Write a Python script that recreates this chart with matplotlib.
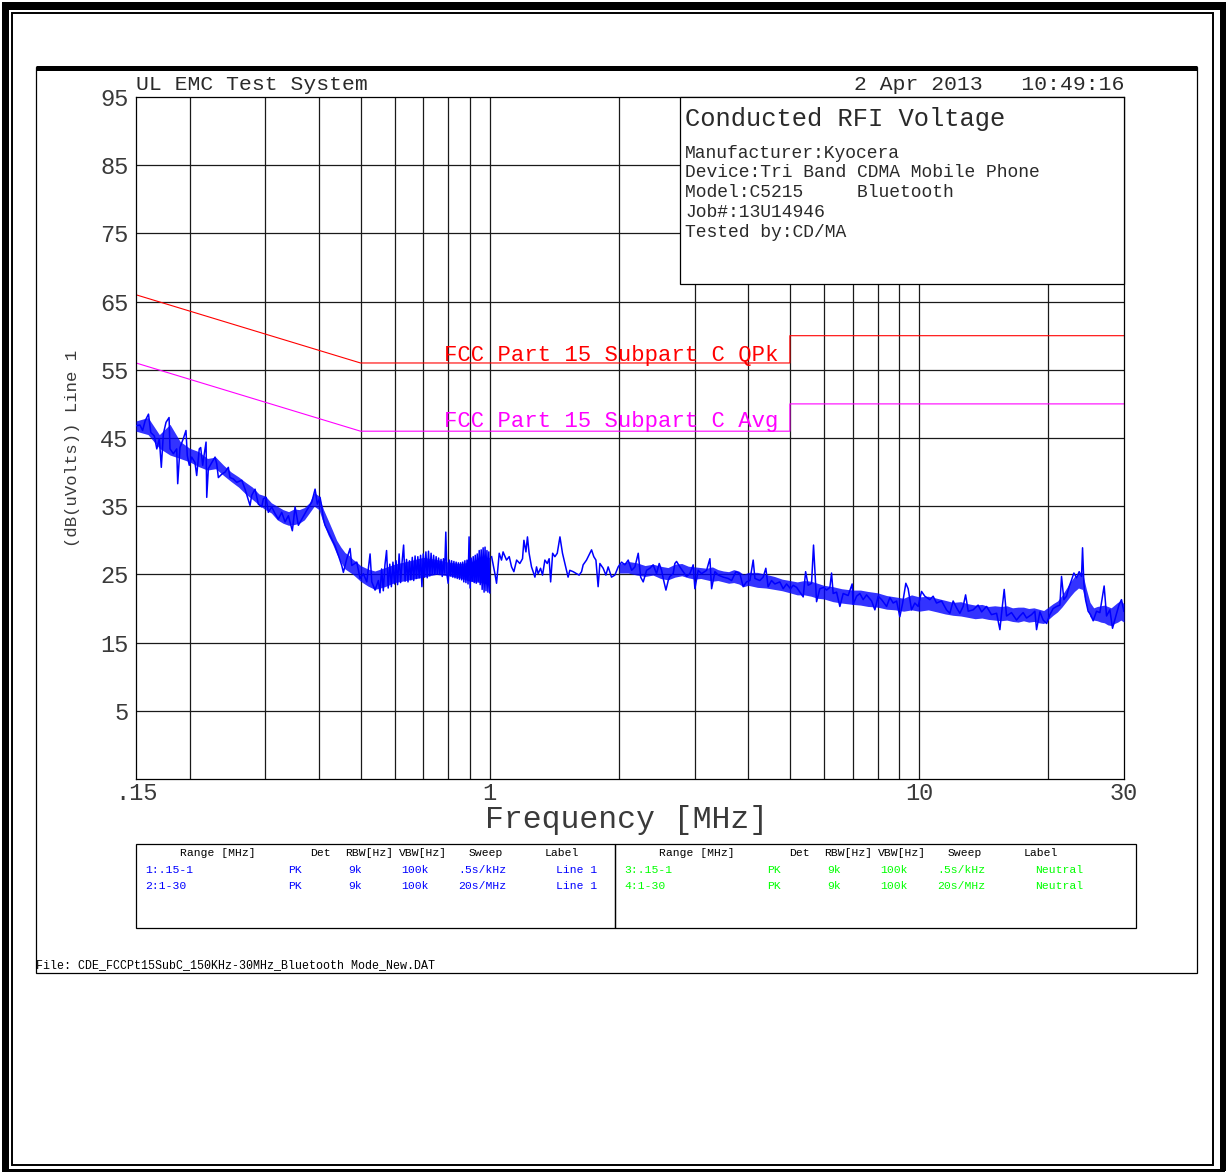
import matplotlib
matplotlib.use("Agg")
import matplotlib.pyplot as plt
from matplotlib.patches import Rectangle

W, H = 1227, 1173
plt.rcParams["font.family"] = ["Liberation Mono", "DejaVu Sans Mono"]

# range 1: .15-1 MHz (Line 1, peak)
FREQ_R1 = [0.150, 0.1532, 0.1554, 0.1575, 0.1604, 0.1624, 0.1655, 0.1677, 0.1700, 0.1718,
           0.1737, 0.1762, 0.1791, 0.1800, 0.1833, 0.1866, 0.1876, 0.1899, 0.1933, 0.1961,
           0.1975, 0.1996, 0.2022, 0.2058, 0.2077, 0.2106, 0.2122, 0.2145, 0.2160, 0.2184,
           0.2192, 0.2211, 0.2252, 0.2292, 0.2313, 0.2333, 0.2376, 0.2418, 0.2461, 0.2483,
           0.2528, 0.2574, 0.2645, 0.2692, 0.2765, 0.2790, 0.2840, 0.2891, 0.2944, 0.2970,
           0.3013, 0.3050, 0.3106, 0.3162, 0.3218, 0.3277, 0.3336, 0.3396, 0.3469, 0.3520,
           0.3583, 0.3649, 0.3748, 0.3850, 0.3919, 0.3967, 0.4025, 0.4062, 0.4097, 0.4134,
           0.4208, 0.4286, 0.4362, 0.4440, 0.4522, 0.4561, 0.4645, 0.4728, 0.4771, 0.4901,
           0.4988, 0.5077, 0.5171, 0.5263, 0.5311, 0.5406, 0.5503,
           0.555, 0.560, 0.565, 0.570, 0.575, 0.580, 0.585, 0.590, 0.595, 0.600,
           0.605, 0.610, 0.615, 0.620, 0.625, 0.630, 0.635, 0.640, 0.645, 0.650,
           0.655, 0.660, 0.665, 0.670, 0.675, 0.680, 0.685, 0.690, 0.695, 0.700,
           0.705, 0.710, 0.715, 0.720, 0.725, 0.730, 0.735, 0.740, 0.745, 0.750,
           0.755, 0.760, 0.765, 0.770, 0.775, 0.780, 0.785, 0.790, 0.795, 0.800,
           0.805, 0.810, 0.815, 0.820, 0.825, 0.830, 0.835, 0.840, 0.845, 0.850,
           0.855, 0.860, 0.865, 0.870, 0.875, 0.880, 0.885, 0.890, 0.895, 0.900,
           0.905, 0.910, 0.915, 0.920, 0.925, 0.930, 0.935, 0.940, 0.945, 0.950,
           0.955, 0.960, 0.965, 0.970, 0.975, 0.980, 0.985, 0.990, 0.995, 1.000]
LEVEL_R1 = [46.8, 46.9, 46.1, 47.5, 48.5, 45.8, 45.3, 43.4, 44.9, 40.7,
            45.6, 47.3, 48.0, 43.4, 42.7, 43.4, 38.3, 43.6, 44.9, 46.1,
            42.4, 41.0, 42.2, 41.4, 39.5, 43.4, 43.6, 41.0, 42.4, 44.4,
            36.3, 40.5, 41.4, 42.2, 41.2, 39.2, 39.7, 40.0, 40.7, 39.2,
            39.0, 38.5, 38.8, 37.5, 35.1, 36.6, 37.5, 35.3, 34.9, 36.1,
            36.3, 34.1, 34.9, 33.9, 33.1, 34.1, 32.7, 33.6, 31.4, 34.9,
            32.2, 33.1, 34.4, 35.6, 37.5, 35.3, 36.3, 34.9, 33.1, 32.2,
            31.2, 30.2, 29.2, 27.8, 26.3, 25.3, 27.3, 28.8, 26.3, 26.8,
            24.4, 25.1, 23.9, 28.0, 23.9, 22.7, 24.1,
            22.3, 25.8, 22.6, 26.4, 28.5, 23.0, 26.5, 23.2, 26.8, 23.6,
            27.0, 23.5, 28.0, 23.8, 26.9, 29.3, 24.0, 27.2, 23.9, 27.0,
            24.2, 27.5, 24.1, 27.7, 24.4, 27.6, 24.5, 27.8, 23.2, 28.0,
            24.6, 28.3, 24.5, 28.4, 24.8, 28.1, 25.0, 27.8, 25.0, 27.6,
            25.1, 27.4, 25.0, 27.2, 24.7, 27.3, 25.2, 31.2, 24.9, 23.7,
            27.1, 24.8, 27.0, 24.6, 26.9, 24.5, 26.8, 24.4, 26.7, 24.3,
            26.7, 24.2, 26.8, 23.9, 27.0, 23.8, 27.1, 23.6, 30.5, 23.0,
            27.4, 24.0, 27.6, 23.8, 27.8, 23.7, 28.0, 24.0, 28.5, 23.5,
            28.6, 22.8, 28.9, 22.4, 29.0, 22.6, 28.5, 22.4, 28.3, 22.3]

# noise band of range 1 (lower / upper edge of the dense sweep)
BAND_R1_FREQ = [0.15, 0.16, 0.17, 0.18, 0.19, 0.20, 0.21, 0.22, 0.23, 0.24,
                0.25, 0.26, 0.27, 0.28, 0.29, 0.30, 0.31, 0.32, 0.33, 0.34,
                0.35, 0.36, 0.37, 0.38, 0.39, 0.40, 0.41, 0.42, 0.43, 0.44,
                0.45, 0.46, 0.47, 0.48, 0.49, 0.50, 0.52, 0.54, 0.57, 0.60,
                0.65, 0.70, 0.75, 0.80, 0.85, 0.90, 0.95, 1.00]
BAND_R1_LO = [46.0, 45.5, 43.5, 42.5, 42.0, 41.5, 40.8, 40.3, 40.5, 39.5,
              38.6, 37.8, 36.8, 36.0, 35.2, 34.5, 34.0, 33.0, 32.5, 32.2,
              32.3, 32.5, 33.0, 34.0, 35.0, 34.5, 32.5, 30.8, 29.5, 28.0,
              26.8, 25.8, 25.4, 25.0, 24.5, 24.0, 23.3, 22.8, 23.2, 23.8,
              24.2, 24.6, 25.0, 24.8, 24.5, 24.0, 23.8, 23.5]
BAND_R1_HI = [47.5, 48.0, 45.5, 47.0, 44.5, 43.5, 43.0, 42.0, 42.2, 41.0,
              40.0, 39.3, 38.5, 37.8, 36.8, 36.5, 35.5, 35.0, 34.5, 34.2,
              34.6, 34.5, 34.8, 35.5, 37.0, 36.5, 34.5, 33.0, 31.5, 30.0,
              29.0, 28.2, 27.8, 27.2, 26.8, 26.3, 25.8, 25.5, 26.0, 26.5,
              27.0, 27.5, 27.2, 26.8, 26.6, 26.8, 27.5, 27.5]

# range 2: 1-30 MHz (Line 1, peak)
FREQ_R2 = [1.010, 1.028, 1.037, 1.052, 1.065, 1.074, 1.094, 1.110, 1.124, 1.138,
           1.155, 1.175, 1.192, 1.201, 1.214, 1.224, 1.235, 1.251, 1.274, 1.285,
           1.296, 1.313, 1.327, 1.344, 1.361, 1.375, 1.386, 1.401, 1.418, 1.436,
           1.457, 1.477, 1.496, 1.522, 1.536, 1.564, 1.593, 1.615, 1.636, 1.650,
           1.680, 1.726, 1.747, 1.767, 1.788, 1.805, 1.837, 1.864, 1.887, 1.921,
           1.956, 1.991, 2.028, 2.064, 2.101, 2.140, 2.178, 2.217, 2.246, 2.277,
           2.319, 2.360, 2.402, 2.446, 2.481, 2.513, 2.535, 2.572, 2.604,
           2.627, 2.674, 2.698, 2.723, 2.772, 2.821, 2.873, 2.924, 2.977, 3.004,
           3.058, 3.114, 3.199, 3.256, 3.286, 3.345, 3.405, 3.497, 3.592, 3.658,
           3.743, 3.824, 3.892, 3.963, 4.035, 4.107, 4.145, 4.256, 4.332, 4.395,
           4.449, 4.531, 4.613, 4.738, 4.823, 4.912, 5.018, 5.089, 5.183, 5.276,
           5.370, 5.440, 5.515, 5.616, 5.676, 5.716, 5.769, 5.872, 6.000, 6.087,
           6.196, 6.252, 6.306, 6.422, 6.537, 6.654, 6.834, 6.982, 7.020, 7.149,
           7.277, 7.407, 7.544, 7.750, 7.887, 8.029, 8.176, 8.399, 8.549, 8.700,
           8.861, 9.016, 9.148, 9.311, 9.428, 9.601, 9.772, 9.947, 10.13, 10.31,
           10.59, 10.78, 10.98, 11.28, 11.58, 11.79, 12.00, 12.22, 12.44,
           12.66, 12.83, 13.01, 13.36, 13.72, 13.98, 14.35, 14.74, 15.15, 15.42,
           15.56, 15.78, 15.98, 16.41, 16.86, 17.16, 17.47, 17.79, 18.27, 18.60,
           18.77, 19.11, 19.45, 19.81, 20.16, 20.52, 20.90, 21.27, 21.46, 21.73,
           22.04, 22.35, 22.65, 22.93, 23.26, 23.59, 23.89, 24.02, 24.19, 24.41,
           24.75, 25.07, 25.43, 25.89, 26.36, 26.97, 27.32, 27.81, 28.21, 28.72,
           29.23, 29.60, 29.98]
LEVEL_R2 = [27.6, 25.1, 23.7, 28.1, 27.1, 28.3, 27.1, 27.6, 26.1, 25.4,
            27.1, 26.6, 27.3, 30.0, 28.3, 30.5, 28.1, 26.1, 24.6, 26.1,
            25.1, 25.9, 24.9, 27.1, 26.6, 27.3, 23.9, 28.1, 27.6, 28.1,
            30.5, 28.1, 26.6, 24.6, 25.6, 25.4, 25.1, 24.9, 25.4, 26.4,
            27.1, 28.6, 27.6, 27.1, 23.2, 26.6, 25.9, 24.9, 26.1, 24.6,
            24.9, 26.1, 26.8, 26.4, 27.1, 25.6, 26.1, 28.1, 24.6, 23.9,
            25.6, 25.9, 26.4, 25.1, 26.6, 25.6, 24.4, 22.7, 24.1,
            24.7, 25.1, 26.6, 26.9, 26.1, 25.4, 24.7, 25.1, 26.4, 22.9,
            25.6, 25.1, 25.6, 27.3, 22.9, 25.4, 24.9, 24.6, 24.4, 24.1,
            25.4, 25.1, 23.2, 23.9, 24.1, 27.1, 24.4, 24.1, 24.6, 25.9,
            23.2, 24.1, 23.6, 23.9, 22.9, 23.6, 22.9, 23.4, 23.1, 22.4,
            21.7, 25.4, 23.4, 23.7, 29.3, 25.6, 21.0, 22.9, 23.1, 22.7,
            23.1, 25.2, 22.2, 22.4, 20.3, 22.2, 21.9, 23.6, 20.6, 21.8,
            22.2, 21.3, 22.0, 21.1, 19.8, 21.8, 21.3, 20.3, 21.6, 20.8,
            21.1, 18.8, 20.7, 23.7, 22.9, 19.8, 20.8, 20.3, 22.5, 21.8,
            21.3, 21.8, 20.8, 21.1, 19.8, 19.3, 21.1, 20.1, 19.3,
            20.3, 22.0, 19.6, 19.8, 20.5, 19.5, 20.3, 19.1, 19.3, 16.9,
            19.3, 22.8, 18.9, 19.4, 18.3, 18.9, 19.4, 18.6, 19.1, 19.6,
            16.9, 19.5, 18.3, 17.8, 19.1, 20.0, 20.3, 20.5, 24.7, 21.3,
            21.8, 23.2, 24.2, 25.2, 24.5, 25.4, 24.7, 28.9, 23.7, 21.3,
            19.6, 19.1, 18.2, 19.6, 19.4, 23.3, 18.9, 19.8, 17.1, 18.9,
            20.6, 21.3, 19.6]

# noise band of range 2 above 2 MHz
BAND_R2_FREQ = [2.0, 2.1, 2.2, 2.3, 2.4, 2.5, 2.6, 2.7, 2.8, 2.9,
                3.0, 3.1, 3.2, 3.3, 3.4, 3.5, 3.6, 3.7, 3.8, 3.9,
                4.0, 4.2, 4.4, 4.6, 4.8, 5.0, 5.2, 5.4, 5.6, 5.8,
                6.0, 6.3, 6.6, 7.0, 7.3, 7.6, 8.0, 8.4, 8.8, 9.2,
                9.6, 10.0, 10.5, 11.0, 11.5, 12.0, 12.5, 13.0, 13.5, 14.0,
                14.5, 15.0, 15.5, 16.0, 16.5, 17.0, 17.5, 18.0, 18.5, 19.0,
                19.5, 20.0, 20.5, 21.0, 21.5, 22.0, 22.5, 23.0, 23.5, 24.0,
                24.5, 25.0, 25.5, 26.0, 26.5, 27.0, 27.5, 28.0, 28.5, 29.0,
                29.5, 30.0]
BAND_R2_LO = [25.2, 25.2, 24.9, 24.7, 24.9, 24.4, 24.2, 24.6, 24.8, 24.5,
              24.3, 24.4, 24.2, 24.0, 24.1, 23.9, 23.7, 23.8, 23.6, 23.2,
              23.4, 23.1, 23.0, 22.8, 22.6, 22.3, 22.0, 22.0, 21.8, 21.5,
              21.4, 21.0, 20.8, 20.6, 20.5, 20.3, 20.2, 19.9, 19.8, 19.6,
              19.8, 19.6, 19.8, 19.5, 19.2, 19.0, 18.9, 18.7, 18.5, 18.6,
              18.4, 18.3, 18.2, 18.3, 18.1, 18.0, 18.2, 18.0, 18.1, 17.9,
              17.8, 18.4, 19.0, 19.5, 20.2, 21.0, 21.8, 22.5, 23.0, 22.8,
              20.5, 18.8, 18.3, 18.2, 18.0, 17.9, 17.6, 17.5, 17.8, 18.0,
              18.3, 18.0]
BAND_R2_HI = [26.5, 26.9, 26.7, 26.3, 26.5, 26.2, 26.0, 26.5, 26.6, 26.2,
              26.1, 26.0, 25.9, 26.1, 25.7, 25.5, 25.4, 25.7, 25.5, 25.0,
              25.3, 25.3, 25.0, 24.7, 24.3, 24.1, 23.9, 24.1, 24.0, 23.7,
              23.4, 23.2, 22.9, 22.7, 22.7, 22.5, 22.3, 21.9, 21.7, 21.5,
              22.0, 21.7, 21.8, 21.5, 21.2, 20.9, 21.0, 20.7, 20.5, 20.6,
              20.3, 20.4, 20.3, 20.4, 20.1, 20.2, 20.2, 20.0, 20.1, 19.9,
              19.7, 20.2, 20.7, 21.1, 21.9, 22.9, 23.9, 24.7, 25.1, 25.3,
              22.9, 20.9, 20.1, 20.3, 20.4, 20.5, 20.3, 20.1, 20.5, 20.9,
              21.1, 20.7]

# FCC Part 15 Subpart C limits
QPK_FREQ = [0.15, 0.5, 5.0, 5.0, 30.0]
QPK_LIMIT = [66, 56, 56, 60, 60]
AVG_FREQ = [0.15, 0.5, 5.0, 5.0, 30.0]
AVG_LIMIT = [56, 46, 46, 50, 50]

YTICKS = [5, 15, 25, 35, 45, 55, 65, 75, 85, 95]
XTICKS = [0.15, 1, 10, 30]
XTICK_LABELS = [".15", "1", "10", "30"]
GRID_FREQ = [0.2, 0.3, 0.4, 0.5, 0.6, 0.7, 0.8, 0.9, 1, 2, 3, 4, 5, 6, 7, 8, 9, 10, 20]

INFO_LINES = ["Manufacturer:Kyocera", "Device:Tri Band CDMA Mobile Phone",
              "Model:C5215     Bluetooth", "Job#:13U14946", "Tested by:CD/MA"]

TABLE_HEADER = ["Range [MHz]", "Det", "RBW[Hz]", "VBW[Hz]", "Sweep", "Label"]
TABLE_LINE = [["1:.15-1", "PK", "9k", "100k", ".5s/kHz", "Line 1"],
              ["2:1-30", "PK", "9k", "100k", "20s/MHz", "Line 1"]]
TABLE_NEUTRAL = [["3:.15-1", "PK", "9k", "100k", ".5s/kHz", "Neutral"],
                 ["4:1-30", "PK", "9k", "100k", "20s/MHz", "Neutral"]]

TEXT = "#2a2a2a"
BLUE = "#0000ff"

fig = plt.figure(figsize=(W / 100, H / 100), dpi=100)
fig.patch.set_facecolor("white")

# main plot area
ax = fig.add_axes([136 / W, 1 - 779 / H, 988 / W, 682 / H], zorder=1)
ax.set_xscale("log")
ax.set_xlim(0.15, 30)
ax.set_ylim(-5, 95)
for f in GRID_FREQ:
    ax.axvline(f, color="#1a1a1a", lw=0.9, zorder=1)
for y in YTICKS[:-1]:
    ax.axhline(y, color="#1a1a1a", lw=0.9, zorder=1)

ax.plot(QPK_FREQ, QPK_LIMIT, color="#ff0000", lw=0.8, zorder=2)
ax.plot(AVG_FREQ, AVG_LIMIT, color="#ff00ff", lw=0.8, zorder=2)
ax.text(4.69, 56.35, "FCC Part 15 Subpart C QPk", color="#ff0000", fontsize=16,
        ha="right", va="baseline", zorder=2)
ax.text(4.69, 46.6, "FCC Part 15 Subpart C Avg", color="#ff00ff", fontsize=16,
        ha="right", va="baseline", zorder=2)

ax.fill_between(BAND_R1_FREQ, BAND_R1_LO, BAND_R1_HI, color=BLUE, alpha=0.8, lw=0, zorder=3)
ax.fill_between(BAND_R2_FREQ, BAND_R2_LO, BAND_R2_HI, color=BLUE, alpha=0.8, lw=0, zorder=3)
ax.plot(FREQ_R1, LEVEL_R1, color=BLUE, lw=1.1, zorder=3)
ax.plot(FREQ_R2, LEVEL_R2, color=BLUE, lw=1.1, zorder=3)

ax.set_xticks(XTICKS)
ax.set_xticklabels(XTICK_LABELS)
ax.xaxis.set_minor_locator(matplotlib.ticker.NullLocator())
ax.set_yticks(YTICKS)
ax.tick_params(length=0, labelsize=17, labelcolor="#3a3a3a")
ax.tick_params(axis="y", pad=5.5)
ax.tick_params(axis="x", pad=2.5)
for sp in ax.spines.values():
    sp.set_linewidth(0.9)

# overlay in pixel coordinates for frame, header and tables
ov = fig.add_axes([0, 0, 1, 1], zorder=3)
ov.set_xlim(0, W)
ov.set_ylim(H, 0)
ov.axis("off")

# outer border
for r in [(2, 2, 7, H - 4), (2, 2, W - 4, 8), (W - 7, 2, 6, H - 4), (2, H - 4, W - 4, 3)]:
    ov.add_patch(Rectangle((r[0], r[1]), r[2], r[3], color="black", lw=0))
ov.add_patch(Rectangle((12, 13), W - 26, H - 21, fill=False, ec="black", lw=1.4))

# inner frame
ov.add_patch(Rectangle((36, 67), 1161, 906, fill=False, ec="black", lw=0.9))
ov.plot([36, 1197], [67.5, 67.5], color="black", lw=3.6, solid_capstyle="butt")

ov.text(136, 84, "UL EMC Test System", fontsize=15.4, color=TEXT, va="center")
ov.text(1124, 84, "2 Apr 2013   10:49:16", fontsize=15.4, color=TEXT,
        va="center", ha="right")

# info box
ov.add_patch(Rectangle((680, 97), 444, 187, fc="white", ec="black", lw=0.9))
ov.text(685, 119, "Conducted RFI Voltage", fontsize=18.4, color=TEXT, va="center")
for i, line in enumerate(INFO_LINES):
    ov.text(685, 153 + i * 19.8, line, fontsize=13, color=TEXT, va="center")

ov.text(72, 448, "(dB(uVolts)) Line 1", fontsize=12.4, color="#3a3a3a",
        rotation=90, ha="center", va="center")
ov.text(627, 820, "Frequency [MHz]", fontsize=22.7, color="#3a3a3a",
        ha="center", va="center")

# sweep settings tables
ov.add_patch(Rectangle((136, 844), 479, 84, fill=False, ec="black", lw=0.9))
ov.add_patch(Rectangle((615, 844), 521, 84, fill=False, ec="black", lw=0.9))
head_x = [180, 310, 345, 399, 469, 545]
row_x = [145, 288, 348, 401, 458, 556]
for x0, rows, col in [(0, TABLE_LINE, BLUE), (479, TABLE_NEUTRAL, "#00ff00")]:
    for hx, h in zip(head_x, TABLE_HEADER):
        ov.text(x0 + hx, 853, h, fontsize=8.2, va="center", color="black")
    for r, row in enumerate(rows):
        for rx, cell in zip(row_x, row):
            ov.text(x0 + rx, 870 + r * 16, cell, fontsize=8.2, va="center", color=col)

ov.text(36, 965, "File: CDE_FCCPt15SubC_150KHz-30MHz_Bluetooth Mode_New.DAT",
        fontsize=8.4, va="center", color="black")

fig.savefig("out.png", dpi=100)
